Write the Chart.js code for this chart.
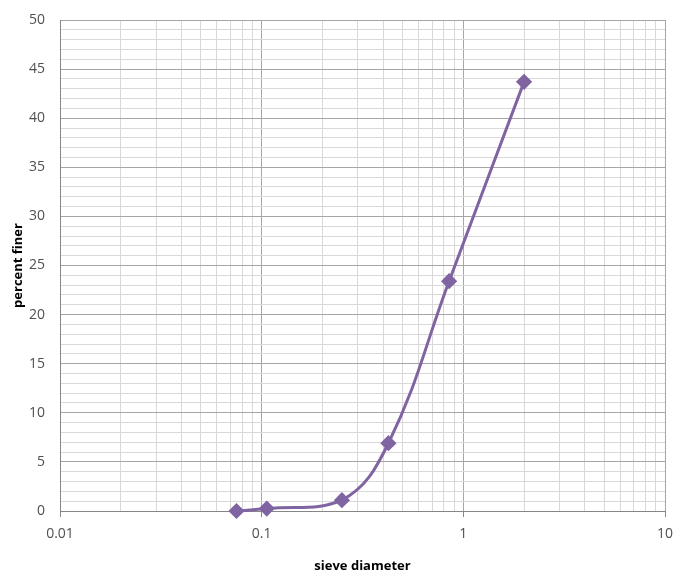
<!DOCTYPE html>
<html>
<head>
<meta charset="utf-8">
<script src="https://cdn.jsdelivr.net/npm/chart.js@4.4.1/dist/chart.umd.min.js"></script>
<style>
  html, body { margin: 0; padding: 0; background: #fff; }
  #wrap { width: 674px; height: 570px; }
</style>
</head>
<body>
<div id="wrap"><canvas id="grafico"></canvas></div>
<script>
// tamices (mm) y porcentaje que pasa
const sieveSizes = [0.075, 0.106, 0.25, 0.425, 0.85, 2.0];
const percentFiner = [0, 0.25, 1.1, 6.9, 23.4, 43.7];

// lineas de grilla del eje x logaritmico: 0.01 .. 10
const xGridValues = [];
[0.01, 0.1, 1].forEach((base) => {
  for (let i = 1; i < 10; i++) xGridValues.push(+(base * i).toPrecision(3));
});
xGridValues.push(10);
const xTickLabels = [0.01, 0.1, 1, 10];

const esDecada = (v) => xTickLabels.some((d) => Math.abs(d - v) < 1e-9);

const fuente = "'Open Sans', 'Liberation Sans', sans-serif";
const violeta = "#8064A2";

new Chart(document.getElementById("grafico"), {
  type: "line",
  data: {
    datasets: [
      {
        label: "percent finer",
        data: sieveSizes.map((x, i) => ({ x, y: percentFiner[i] })),
        borderColor: violeta,
        backgroundColor: violeta,
        borderWidth: 3,
        tension: 0.4,
        pointStyle: "rectRot",
        pointRadius: 6,
        pointHoverRadius: 6,
        fill: false,
        clip: false, // el rombo del 0 se ve entero, como en el original
      },
    ],
  },
  options: {
    responsive: true,
    maintainAspectRatio: false,
    animation: false,
    layout: { padding: { top: 20, right: 9, left: 0, bottom: 0 } },
    plugins: { legend: { display: false }, tooltip: { enabled: false } },
    scales: {
      x: {
        type: "logarithmic",
        min: 0.01,
        max: 10,
        afterBuildTicks: (scale) => {
          scale.ticks = xGridValues.map((v) => ({ value: v }));
        },
        afterFit: (scale) => {
          scale.height = 59;
          scale.paddingRight = 0; // el "10" puede salirse un poco
        },
        grid: {
          color: (ctx) => (esDecada(ctx.tick.value) ? "#a6a6a6" : "#d9d9d9"),
          lineWidth: 1,
          drawTicks: true,
          tickLength: 6,
          tickColor: (ctx) => (esDecada(ctx.tick.value) ? "#868686" : "rgba(0,0,0,0)"),
        },
        border: { color: "#868686" },
        ticks: {
          autoSkip: false,
          maxRotation: 0,
          color: "#505050",
          font: { family: fuente, size: 14 },
          padding: 9,
          callback: (v) => (esDecada(v) ? String(v) : ""),
        },
        title: {
          display: true,
          text: "sieve diameter",
          color: "#000",
          font: { family: fuente, size: 13, weight: "bold" },
          padding: { top: 0, bottom: -4 },
        },
      },
      y: {
        min: 0,
        max: 50,
        afterFit: (scale) => {
          scale.width = 60;
          scale.paddingTop = 0; // que el "50" no empuje el area hacia abajo
          scale.paddingBottom = 0;
        },
        grid: {
          color: (ctx) => (ctx.tick.value % 5 === 0 ? "#a6a6a6" : "#d9d9d9"),
          drawTicks: false,
        },
        border: { color: "#868686" },
        ticks: {
          stepSize: 1,
          autoSkip: false,
          color: "#505050",
          font: { family: fuente, size: 14 },
          padding: 15,
          callback: (v) => (v % 5 === 0 ? String(v) : ""),
        },
        title: {
          display: true,
          text: "percent finer",
          color: "#000",
          font: { family: fuente, size: 13, weight: "bold" },
          padding: { top: 10, bottom: 0 },
        },
      },
    },
  },
});
</script>
</body>
</html>
